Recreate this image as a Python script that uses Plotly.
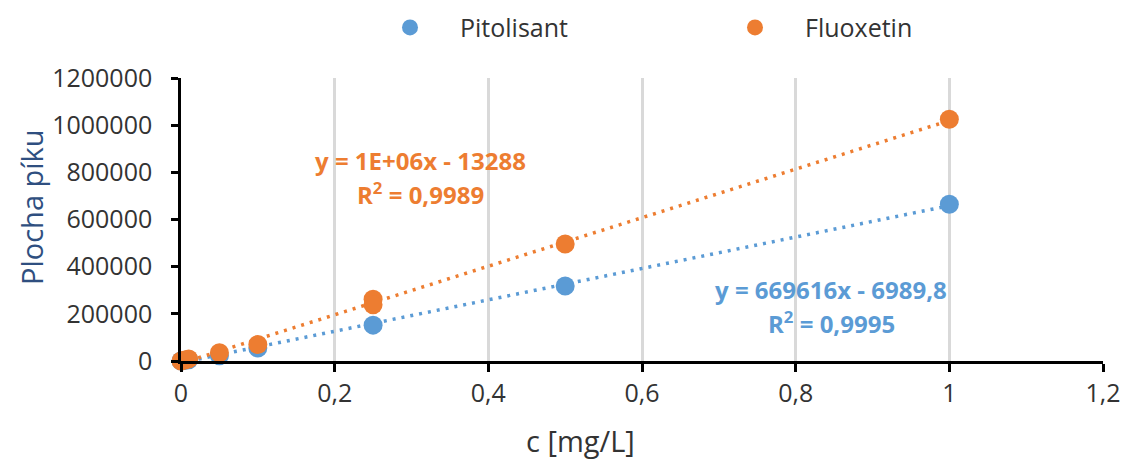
import numpy as np
import plotly.graph_objects as go

# Data
pit_x = [0, 0.005, 0.01, 0.05, 0.1, 0.25, 0.5, 1.0]
pit_y = [0, 2000, 5000, 22000, 55000, 152000, 318000, 665000]
flu_x = [0, 0.005, 0.01, 0.05, 0.1, 0.25, 0.25, 0.5, 1.0]
flu_y = [0, 4000, 9000, 35000, 70000, 262000, 238000, 496000, 1025000]

x_ticks = [0, 0.2, 0.4, 0.6, 0.8, 1.0, 1.2]
x_ticklabels = ["0", "0,2", "0,4", "0,6", "0,8", "1", "1,2"]
y_ticks = [0, 200000, 400000, 600000, 800000, 1000000, 1200000]
y_ticklabels = ["0", "200000", "400000", "600000", "800000", "1000000", "1200000"]

pit_eq = "y = 669616x - 6989,8"
pit_r2 = "R<sup>2</sup> = 0,9995"
flu_eq = "y = 1E+06x - 13288"
flu_r2 = "R<sup>2</sup> = 0,9989"

BLUE = "#5B9BD5"
ORANGE = "#ED7D31"
FONT = "Open Sans"
TXT = "#333333"

def fit_line(xs, ys):
    k, q = np.polyfit(xs, ys, 1)
    lx = np.array([0.0, 1.0])
    return lx, k * lx + q

fig = go.Figure()

for xs, ys, col in [(pit_x, pit_y, BLUE), (flu_x, flu_y, ORANGE)]:
    lx, ly = fit_line(xs, ys)
    fig.add_trace(go.Scatter(x=lx, y=ly, mode="lines", showlegend=False,
                             line=dict(color=col, width=3.5, dash="3px,6px"),
                             cliponaxis=False, hoverinfo="skip"))

fig.add_trace(go.Scatter(x=pit_x, y=pit_y, mode="markers", name="Pitolisant",
                         marker=dict(color=BLUE, size=19), cliponaxis=False))
fig.add_trace(go.Scatter(x=flu_x, y=flu_y, mode="markers", name="Fluoxetin",
                         marker=dict(color=ORANGE, size=19), cliponaxis=False))

fig.update_layout(
    width=1123, height=465,
    margin=dict(l=181, r=20, t=78, b=104, autoexpand=False),
    paper_bgcolor="white", plot_bgcolor="white",
    font=dict(family=FONT, size=24, color=TXT),
    showlegend=True,
    legend=dict(orientation="h", xref="container", yref="container",
                x=360 / 1123, y=0.99, xanchor="left", yanchor="top",
                font=dict(size=25, color=TXT),
                entrywidth=240, entrywidthmode="pixels",
                itemwidth=90, traceorder="normal"),
    xaxis=dict(range=[0, 1.2], tickvals=x_ticks, ticktext=x_ticklabels,
               showgrid=True, gridcolor="#D9D9D9", gridwidth=2.5,
               showline=True, linecolor="black", linewidth=2.5,
               ticks="outside", ticklen=8, tickwidth=2.5, tickcolor="black",
               zeroline=False, automargin=False,
               tickfont=dict(size=25, color=TXT)),
    yaxis=dict(range=[0, 1200000], tickvals=y_ticks, ticktext=y_ticklabels,
               showgrid=False,
               showline=True, linecolor="black", linewidth=2.5,
               ticks="outside", ticklen=7, tickwidth=2.5, tickcolor="black",
               zeroline=False, automargin=False, ticklabelstandoff=14,
               tickfont=dict(size=25, color=TXT)),
)

ann = [
    dict(text=flu_eq, x=420, y=160, color=ORANGE),
    dict(text=flu_r2, x=420, y=193, color=ORANGE),
    dict(text=pit_eq, x=831, y=289, color=BLUE),
    dict(text=pit_r2, x=831, y=322, color=BLUE),
]
for a in ann:
    fig.add_annotation(text="<b>" + a["text"] + "</b>", xref="paper", yref="paper",
                       x=(a["x"] - 181) / 922, y=1 - (a["y"] - 78) / 283,
                       xanchor="center", yanchor="middle", showarrow=False,
                       font=dict(family=FONT, size=24, color=a["color"]))

fig.add_annotation(text="c [mg/L]", xref="paper", yref="paper",
                   x=(580 - 181) / 922, y=1 - (440 - 78) / 283,
                   xanchor="center", yanchor="middle", showarrow=False,
                   font=dict(family=FONT, size=29, color=TXT))
fig.add_annotation(text="Plocha píku", xref="paper", yref="paper",
                   x=(31 - 181) / 922, y=1 - (207 - 78) / 283,
                   xanchor="center", yanchor="middle", showarrow=False, textangle=-90,
                   font=dict(family=FONT, size=29, color="#2F4F80"))

fig.write_html("out.html")
